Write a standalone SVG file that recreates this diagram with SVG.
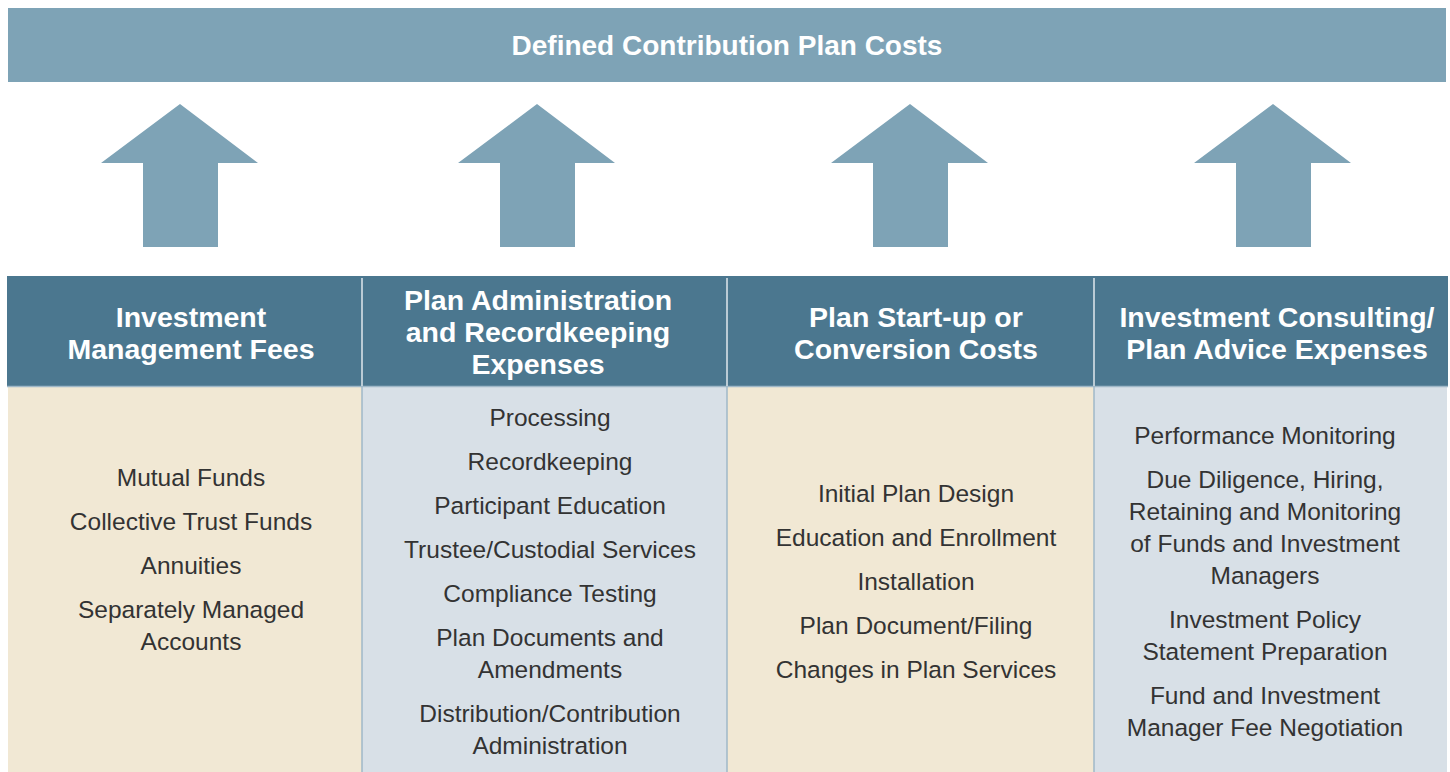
<svg xmlns="http://www.w3.org/2000/svg" width="1450" height="772" viewBox="0 0 1450 772">
  <style>
    .banner { fill: #7ea3b6; }
    .arrow { fill: #7ea3b6; }
    .head { fill: #4b778f; }
    .beige { fill: #f1e8d4; }
    .blue { fill: #d8e0e7; }
    .title { font-family: "Liberation Sans", Arial, sans-serif; font-weight: bold; fill: #ffffff; text-anchor: middle; }
    .hdr { font-size: 28.5px; }
    .item { font-family: "Liberation Sans", Arial, sans-serif; font-size: 24.5px; fill: #333333; text-anchor: middle; }
    .sep { stroke: #dfe7ec; stroke-width: 1.5; }
    .csep { stroke: #9fb8c8; stroke-width: 1.5; }
  </style>
  <defs>
    <!-- block arrow pointing up, tip at origin -->
    <polygon id="up" points="0,0 78,59 38,59 38,143 -37,143 -37,59 -79,59"/>
  </defs>

  <g id="banner">
    <rect class="banner" x="8" y="8" width="1438" height="74"/>
    <text class="title" x="727" y="55" font-size="28">Defined Contribution Plan Costs</text>
  </g>

  <g id="connectors">
    <use href="#up" class="arrow" x="180" y="104"/>
    <use href="#up" class="arrow" x="537" y="104"/>
    <use href="#up" class="arrow" x="910" y="104"/>
    <use href="#up" class="arrow" x="1273" y="104"/>
  </g>

  <!-- header band and body cells -->
  <rect class="head" x="7" y="276" width="1441" height="110"/>
  <rect class="beige" x="8" y="387" width="354" height="385"/>
  <rect class="blue" x="362" y="387" width="365" height="385"/>
  <rect class="beige" x="727" y="387" width="367" height="385"/>
  <rect class="blue" x="1094" y="387" width="353" height="385"/>
  <line class="csep" x1="7" y1="386.5" x2="1448" y2="386.5"/>
  <line class="sep" x1="362" y1="278" x2="362" y2="386"/>
  <line class="sep" x1="727" y1="278" x2="727" y2="386"/>
  <line class="sep" x1="1094" y1="278" x2="1094" y2="386"/>
  <line class="csep" x1="362" y1="387" x2="362" y2="772"/>
  <line class="csep" x1="727" y1="387" x2="727" y2="772"/>
  <line class="csep" x1="1094" y1="387" x2="1094" y2="772"/>

  <g id="col-investment-management">
    <text class="title hdr" x="191" y="327">Investment</text>
    <text class="title hdr" x="191" y="359">Management Fees</text>
    <text class="item" x="191" y="486">Mutual Funds</text>
    <text class="item" x="191" y="530">Collective Trust Funds</text>
    <text class="item" x="191" y="574">Annuities</text>
    <text class="item" x="191" y="618">Separately Managed</text>
    <text class="item" x="191" y="650">Accounts</text>
  </g>

  <g id="col-plan-administration">
    <text class="title hdr" x="538" y="310">Plan Administration</text>
    <text class="title hdr" x="538" y="342">and Recordkeeping</text>
    <text class="title hdr" x="538" y="374">Expenses</text>
    <text class="item" x="550" y="426">Processing</text>
    <text class="item" x="550" y="470">Recordkeeping</text>
    <text class="item" x="550" y="514">Participant Education</text>
    <text class="item" x="550" y="558">Trustee/Custodial Services</text>
    <text class="item" x="550" y="602">Compliance Testing</text>
    <text class="item" x="550" y="646">Plan Documents and</text>
    <text class="item" x="550" y="678">Amendments</text>
    <text class="item" x="550" y="722">Distribution/Contribution</text>
    <text class="item" x="550" y="754">Administration</text>
  </g>

  <g id="col-start-up">
    <text class="title hdr" x="916" y="327">Plan Start-up or</text>
    <text class="title hdr" x="916" y="359">Conversion Costs</text>
    <text class="item" x="916" y="502">Initial Plan Design</text>
    <text class="item" x="916" y="546">Education and Enrollment</text>
    <text class="item" x="916" y="590">Installation</text>
    <text class="item" x="916" y="634">Plan Document/Filing</text>
    <text class="item" x="916" y="678">Changes in Plan Services</text>
  </g>

  <g id="col-consulting">
    <text class="title hdr" x="1277" y="327">Investment Consulting/</text>
    <text class="title hdr" x="1277" y="359">Plan Advice Expenses</text>
    <text class="item" x="1265" y="444">Performance Monitoring</text>
    <text class="item" x="1265" y="488">Due Diligence, Hiring,</text>
    <text class="item" x="1265" y="520">Retaining and Monitoring</text>
    <text class="item" x="1265" y="552">of Funds and Investment</text>
    <text class="item" x="1265" y="584">Managers</text>
    <text class="item" x="1265" y="628">Investment Policy</text>
    <text class="item" x="1265" y="660">Statement Preparation</text>
    <text class="item" x="1265" y="704">Fund and Investment</text>
    <text class="item" x="1265" y="736">Manager Fee Negotiation</text>
  </g>
</svg>
